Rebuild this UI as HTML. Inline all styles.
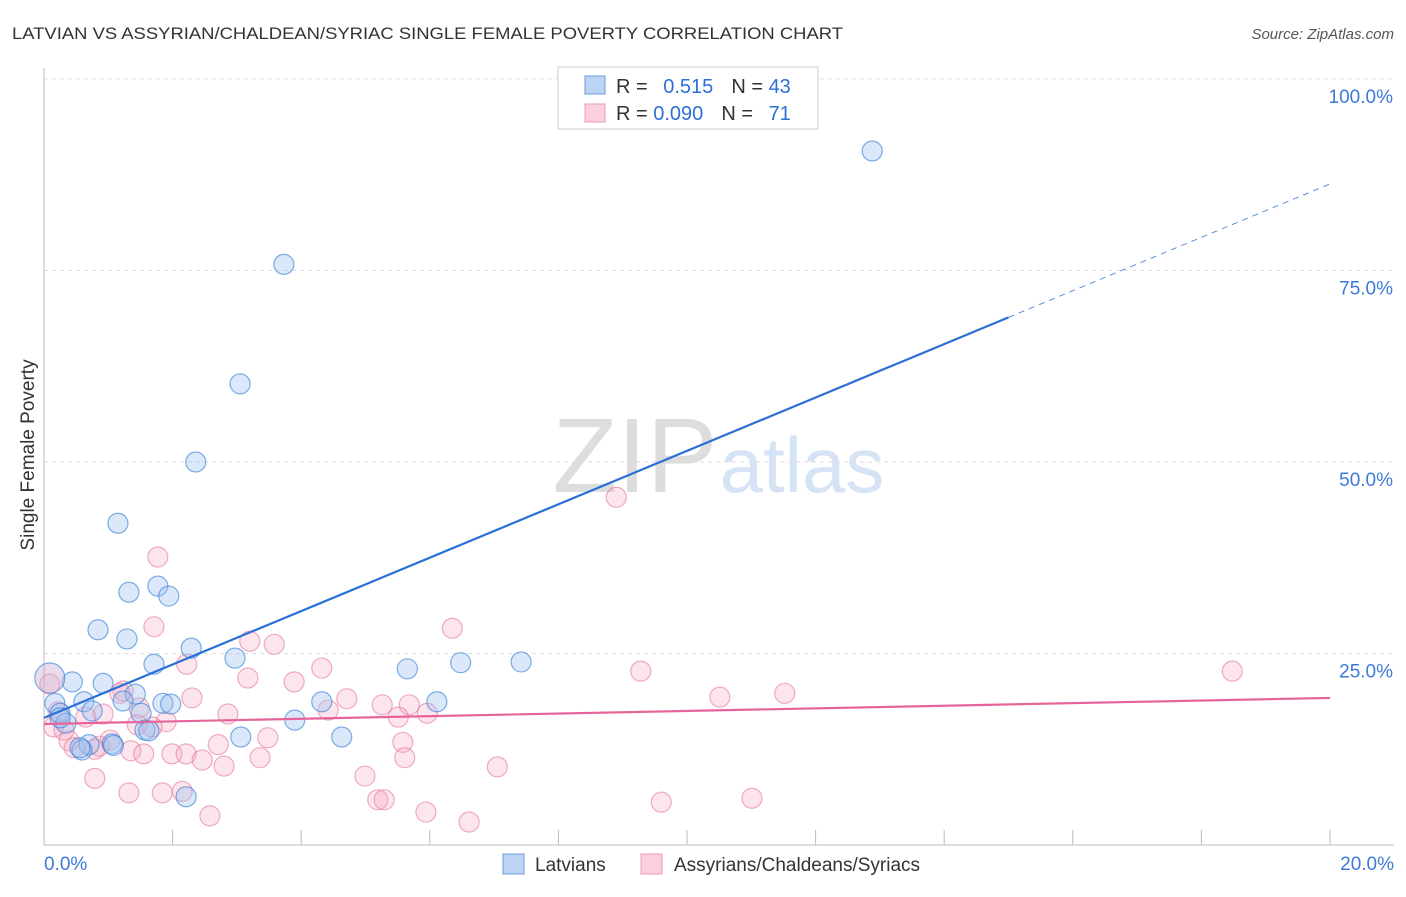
<!DOCTYPE html>
<html><head><meta charset="utf-8"><style>
body{margin:0;background:#fff;font-family:"Liberation Sans",sans-serif;}
svg text{font-family:"Liberation Sans",sans-serif;}
</style></head><body>
<svg id="chart" width="1406" height="892" xmlns="http://www.w3.org/2000/svg">
<text x="12" y="39" font-size="17" fill="#333" textLength="831" lengthAdjust="spacingAndGlyphs">LATVIAN VS ASSYRIAN/CHALDEAN/SYRIAC SINGLE FEMALE POVERTY CORRELATION CHART</text>
<text x="1394" y="39" font-size="15" fill="#555" font-style="italic" text-anchor="end">Source: ZipAtlas.com</text>
<text x="34" y="455" font-size="19" fill="#333" text-anchor="middle" transform="rotate(-90 34 455)">Single Female Poverty</text>
<g><text x="635" y="492" font-size="106" fill="#ddd" font-family="Liberation Serif" text-anchor="middle">ZIP</text><text x="802" y="492" font-size="78" fill="#d5e3f5" text-anchor="middle">atlas</text></g>
<g id="grid"></g><g id="axes"></g><g id="marks"></g><g id="lines"></g>
<g>
<rect x="558" y="67" width="260" height="62" fill="#fff" stroke="#ccc"/>
<rect x="585" y="76" width="20" height="18" fill="#bcd4f3" stroke="#6a9ee0"/>
<rect x="585" y="104" width="20" height="18" fill="#fbd0dc" stroke="#ec9ab4"/>
<text x="616" y="93" font-size="20" fill="#333">R = <tspan fill="#2d6fd6" dx="10">0.515</tspan><tspan dx="18" fill="#333">N = </tspan><tspan fill="#2d6fd6">43</tspan></text>
<text x="616" y="120" font-size="20" fill="#333">R = <tspan fill="#2d6fd6">0.090</tspan><tspan dx="18" fill="#333">N = </tspan><tspan fill="#2d6fd6" dx="10">71</tspan></text>
</g>
<g>
<rect x="503" y="854" width="21" height="20" fill="#bcd4f3" stroke="#6a9ee0"/>
<text x="535" y="871" font-size="19" fill="#333">Latvians</text>
<rect x="641" y="854" width="21" height="20" fill="#fbd0dc" stroke="#ec9ab4"/>
<text x="674" y="871" font-size="19" fill="#333">Assyrians/Chaldeans/Syriacs</text>
</g>
</svg>
<script>
const xTicks=[0,2,4,6,8,10,12,14,16,18,20];
const yTicks=[25,50,75,100];
const yTickLabels=["25.0%","50.0%","75.0%","100.0%"];
const xEndLabels=["0.0%","20.0%"];
const blueX=[12.88,3.73,3.05,2.36,1.15,1.32,1.77,1.94,0.84,1.29,2.29,2.97,1.71,5.65,6.48,7.42,0.44,0.92,1.42,1.23,0.62,1.85,1.97,4.32,6.11,0.17,0.25,0.75,1.51,3.90,0.34,1.57,1.63,3.06,4.63,0.70,1.06,0.59,2.21,0.25,0.56,1.08];
const blueY=[90.6,75.8,60.2,50.0,42.0,33.0,33.8,32.5,28.1,26.9,25.7,24.4,23.6,23.0,23.8,23.9,21.3,21.1,19.7,18.8,18.7,18.5,18.4,18.7,18.7,18.5,17.2,17.5,17.2,16.3,15.9,15.0,14.9,14.1,14.1,13.1,13.2,12.4,6.3,16.6,12.7,13.0];
const bigX=[0.09],bigY=[21.8];
const pinkX=[8.90,1.77,1.71,6.35,3.20,3.58,2.22,4.32,9.28,18.48,3.17,3.89,0.09,1.23,11.52,10.51,2.30,4.71,5.26,5.68,1.48,4.42,0.92,2.86,5.96,5.51,0.65,1.90,1.45,0.15,1.68,0.31,0.39,1.03,3.48,2.71,5.58,0.79,0.47,1.35,1.55,1.99,2.21,2.46,3.36,5.61,2.80,7.05,0.79,4.99,1.32,1.84,2.15,5.19,5.29,9.60,11.01,5.94,2.58,6.61,0.22,0.86,1.18];
const pinkY=[45.4,37.6,28.5,28.3,26.6,26.2,23.6,23.1,22.7,22.7,21.8,21.3,21.0,20.1,19.8,19.3,19.2,19.1,18.3,18.3,17.9,17.6,17.1,17.1,17.2,16.7,16.7,16.1,15.7,15.4,15.4,15.0,13.6,13.7,14.0,13.1,13.4,12.5,12.7,12.3,11.9,11.9,11.9,11.1,11.4,11.4,10.3,10.2,8.7,9.0,6.8,6.8,7.0,5.9,5.9,5.6,6.1,4.3,3.8,3.0,17.4,12.9,19.8];
const blueFit=[16.6,3.485], blueSolidEnd=15.0;
const pinkFit=[15.8,0.17];
const NS="http://www.w3.org/2000/svg";
const X=v=>44+v*64.3, Y=v=>845-v*7.66;
function mk(tag,attrs,parent){const e=document.createElementNS(NS,tag);for(const k in attrs)e.setAttribute(k,attrs[k]);document.getElementById(parent).appendChild(e);return e;}
yTicks.forEach((t,i)=>{
 const g=mk('line',{x1:44,x2:1394,y1:Y(t),y2:Y(t),stroke:'#ddd','stroke-dasharray':'4,4'},'grid');
 
 
 const l=mk('text',{x:1393,y:Y(t)+24,'font-size':19,fill:'#3d7ad8','text-anchor':'end'},'axes');l.textContent=yTickLabels[i];
 
 
});
const ax=mk('line',{x1:44,x2:1394,y1:845,y2:845,stroke:'#bbb'},'axes');


const ay=mk('line',{x1:44,x2:44,y1:68,y2:845,stroke:'#bbb'},'axes');


xTicks.forEach(t=>{const e=mk('line',{x1:X(t),x2:X(t),y1:830,y2:845,stroke:'#bbb'},'axes');
 
 });
[[0,'start',xEndLabels[0]],[20,'end',xEndLabels[1]]].forEach(a=>{const e=mk('text',{x:a[0]==0?44:1394,y:870,'font-size':19,fill:'#3d7ad8','text-anchor':a[1]},'axes');e.textContent=a[2];
 
 });
pinkX.forEach((v,i)=>{const c=mk('circle',{cx:X(v),cy:Y(pinkY[i]),r:10,fill:'rgba(245,160,185,0.28)',stroke:'rgba(230,120,155,0.6)','stroke-width':1.2},'marks');
 
 });
blueX.forEach((v,i)=>{const c=mk('circle',{cx:X(v),cy:Y(blueY[i]),r:10,fill:'rgba(150,190,240,0.35)',stroke:'rgba(60,130,215,0.65)','stroke-width':1.2},'marks');
 
 });
bigX.forEach((v,i)=>{const c=mk('circle',{cx:X(v),cy:Y(bigY[i]),r:15,fill:'rgba(200,170,210,0.4)',stroke:'rgba(60,130,215,0.65)','stroke-width':1.2},'marks');
 
 });
const bl=mk('line',{x1:X(0),y1:Y(blueFit[0]),x2:X(blueSolidEnd),y2:Y(blueFit[0]+blueFit[1]*blueSolidEnd),stroke:'#2a6fd6','stroke-width':2.2},'lines');


const bd=mk('line',{x1:X(blueSolidEnd),y1:Y(blueFit[0]+blueFit[1]*blueSolidEnd),x2:X(20),y2:Y(blueFit[0]+blueFit[1]*20),stroke:'#5a8fdc','stroke-width':1,'stroke-dasharray':'6,5'},'lines');


const pl=mk('line',{x1:X(0),y1:Y(pinkFit[0]),x2:X(20),y2:Y(pinkFit[0]+pinkFit[1]*20),stroke:'#e5659a','stroke-width':2.2},'lines');


</script>
</body></html>
